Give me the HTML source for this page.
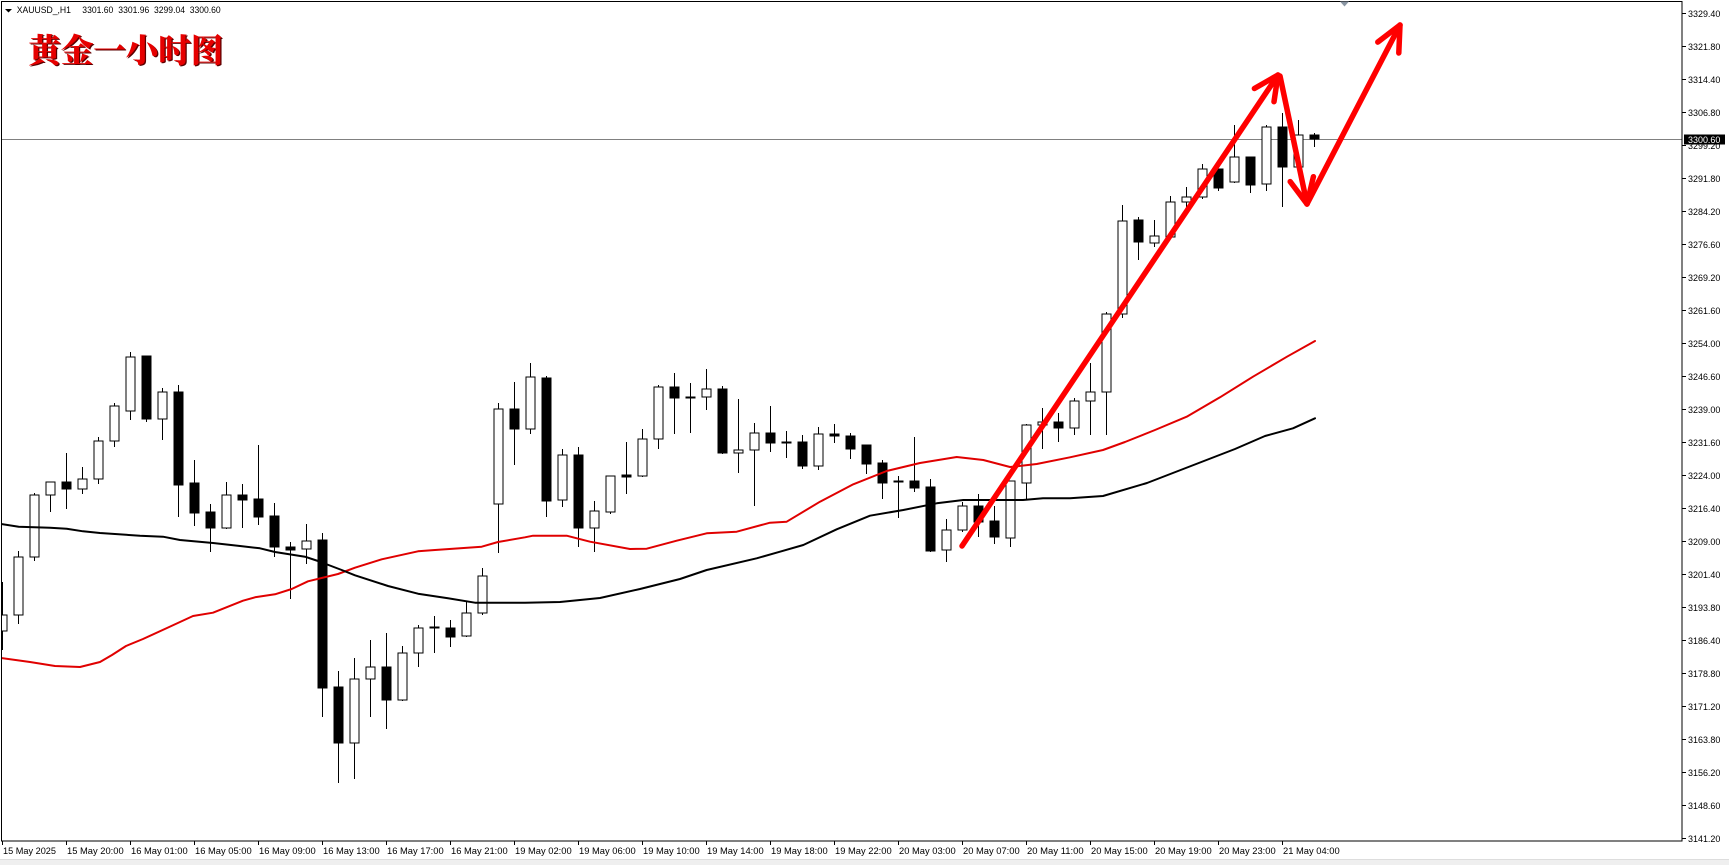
<!DOCTYPE html>
<html>
<head>
<meta charset="utf-8">
<style>
html,body{margin:0;padding:0;background:#fff;}
svg{display:block;}
</style>
</head>
<body>
<svg width="1729" height="865" viewBox="0 0 1729 865" xmlns="http://www.w3.org/2000/svg">
<rect x="0" y="0" width="1729" height="865" fill="#ffffff"/>
<!-- bottom strip -->
<rect x="0" y="860" width="1729" height="5" fill="#efefef"/>
<line x1="0" y1="859.5" x2="1729" y2="859.5" stroke="#dddddd" stroke-width="1"/>

<defs>
<clipPath id="plot"><rect x="2" y="2" width="1680" height="839"/></clipPath>
</defs>

<!-- current price line -->
<line x1="2" y1="139.5" x2="1682" y2="139.5" stroke="#808080" stroke-width="1" shape-rendering="crispEdges"/>

<g clip-path="url(#plot)" shape-rendering="crispEdges">
<!-- wicks -->
<path stroke="#000" stroke-width="1" fill="none" d="
M2.5 582V650 M18.5 551V624 M34.5 493V561 M50.5 482V512 M66.5 453V509 M82.5 467V494 M98.5 437V484 M114.5 403V447
M130.5 352V420 M146.5 356V422 M162.5 388V440 M178.5 385V517 M194.5 460V526 M210.5 504V552 M226.5 482V529 M242.5 484V528
M258.5 445V525 M274.5 503V557 M290.5 542V599 M306.5 524V564 M322.5 533V717 M338.5 671V783 M354.5 658V779 M370.5 640V717
M386.5 633V729 M402.5 646V701 M418.5 625V667 M434.5 616V653 M450.5 620V647 M466.5 602V637 M482.5 568V615 M498.5 403V553
M514.5 382V465 M530.5 363V434 M546.5 376V517 M562.5 449V507 M578.5 447V547 M594.5 501V552 M610.5 476V514 M626.5 442V494
M642.5 429V477 M658.5 385V449 M674.5 373V434 M690.5 383V433 M706.5 369V410 M722.5 386V454 M738.5 399V473 M754.5 423V506
M770.5 406V452 M786.5 431V458 M802.5 435V469 M818.5 427V470 M834.5 424V443 M850.5 433V459 M866.5 445V474 M882.5 460V499
M898.5 476V518 M914.5 437V492 M930.5 479V552 M946.5 519V562 M962.5 502V532 M978.5 494V537 M994.5 506V544 M1010.5 481V547
M1026.5 424V500 M1042.5 408V449 M1058.5 413V442 M1074.5 398V435 M1090.5 363V435 M1106.5 312V435 M1122.5 205V318 M1138.5 217V260
M1154.5 220V247 M1170.5 196V238 M1186.5 187V207 M1202.5 164V199 M1218.5 169V191 M1234.5 125V183 M1250.5 157V193 M1266.5 125V191
M1282.5 113V207 M1298.5 120V167 M1314.5 133V147"/>
<!-- bull bodies -->
<g fill="#fff" stroke="#000" stroke-width="1">
<rect x="-2" y="615" width="9" height="16"/>
<rect x="14" y="557" width="9" height="58"/>
<rect x="30" y="495" width="9" height="62"/>
<rect x="46" y="482" width="9" height="13"/>
<rect x="78" y="479" width="9" height="10"/>
<rect x="94" y="441" width="9" height="38"/>
<rect x="110" y="406" width="9" height="35"/>
<rect x="126" y="357" width="9" height="54"/>
<rect x="158" y="392" width="9" height="27"/>
<rect x="222" y="495" width="9" height="33"/>
<rect x="302" y="541" width="9" height="8"/>
<rect x="350" y="679" width="9" height="64"/>
<rect x="366" y="667" width="9" height="12"/>
<rect x="398" y="653" width="9" height="47"/>
<rect x="414" y="628" width="9" height="25"/>
<rect x="462" y="613" width="9" height="23"/>
<rect x="478" y="576" width="9" height="37"/>
<rect x="494" y="409" width="9" height="95"/>
<rect x="526" y="377" width="9" height="52"/>
<rect x="558" y="455" width="9" height="45"/>
<rect x="590" y="511" width="9" height="17"/>
<rect x="606" y="476" width="9" height="36"/>
<rect x="638" y="439" width="9" height="37"/>
<rect x="654" y="387" width="9" height="52"/>
<rect x="702" y="389" width="9" height="8"/>
<rect x="734" y="450" width="9" height="3"/>
<rect x="750" y="433" width="9" height="17"/>
<rect x="814" y="434" width="9" height="32"/>
<rect x="942" y="530" width="9" height="20"/>
<rect x="958" y="506" width="9" height="24"/>
<rect x="1006" y="481" width="9" height="57"/>
<rect x="1022" y="425" width="9" height="58"/>
<rect x="1038" y="422" width="9" height="3"/>
<rect x="1070" y="401" width="9" height="27"/>
<rect x="1086" y="392" width="9" height="9"/>
<rect x="1102" y="314" width="9" height="78"/>
<rect x="1118" y="221" width="9" height="93"/>
<rect x="1150" y="236" width="9" height="7"/>
<rect x="1166" y="202" width="9" height="35"/>
<rect x="1182" y="197" width="9" height="5"/>
<rect x="1198" y="169" width="9" height="28"/>
<rect x="1230" y="157" width="9" height="25"/>
<rect x="1262" y="127" width="9" height="57"/>
<rect x="1294" y="135" width="9" height="32"/>
</g>
<!-- bear bodies -->
<g fill="#000" stroke="#000" stroke-width="1">
<rect x="62" y="482" width="9" height="7"/>
<rect x="142" y="356" width="9" height="63"/>
<rect x="174" y="392" width="9" height="93"/>
<rect x="190" y="483" width="9" height="30"/>
<rect x="206" y="512" width="9" height="16"/>
<rect x="238" y="495" width="9" height="5"/>
<rect x="254" y="499" width="9" height="18"/>
<rect x="270" y="516" width="9" height="31"/>
<rect x="286" y="547" width="9" height="3"/>
<rect x="318" y="540" width="9" height="148"/>
<rect x="334" y="687" width="9" height="56"/>
<rect x="382" y="667" width="9" height="33"/>
<rect x="430" y="627" width="9" height="1"/>
<rect x="446" y="628" width="9" height="9"/>
<rect x="510" y="409" width="9" height="20"/>
<rect x="542" y="378" width="9" height="123"/>
<rect x="574" y="455" width="9" height="73"/>
<rect x="622" y="475" width="9" height="2"/>
<rect x="670" y="387" width="9" height="11"/>
<rect x="686" y="397" width="9" height="1"/>
<rect x="718" y="389" width="9" height="64"/>
<rect x="766" y="433" width="9" height="10"/>
<rect x="782" y="442" width="9" height="1"/>
<rect x="798" y="442" width="9" height="24"/>
<rect x="830" y="434" width="9" height="2"/>
<rect x="846" y="436" width="9" height="13"/>
<rect x="862" y="445" width="9" height="19"/>
<rect x="878" y="463" width="9" height="20"/>
<rect x="894" y="481" width="9" height="1"/>
<rect x="910" y="481" width="9" height="7"/>
<rect x="926" y="487" width="9" height="64"/>
<rect x="974" y="506" width="9" height="16"/>
<rect x="990" y="521" width="9" height="16"/>
<rect x="1054" y="422" width="9" height="6"/>
<rect x="1134" y="220" width="9" height="22"/>
<rect x="1214" y="169" width="9" height="19"/>
<rect x="1246" y="157" width="9" height="28"/>
<rect x="1278" y="127" width="9" height="40"/>
<rect x="1310" y="135" width="9" height="4"/>
</g>
</g>

<!-- moving averages -->
<g clip-path="url(#plot)" fill="none" stroke-linejoin="round" stroke-linecap="round">
<polyline stroke="#e00000" stroke-width="2" points="1,658 30,662 55,666 80,667 100,662 112,655 126,646 143,639 167,628 193,616 213,612.7 243,600.7 255,597.3 275,594.3 291.7,589 308,581.3 338,574 355,567.7 381.7,559.3 418,551.3 435,550 481.7,546.7 498,542 525,537.3 533,535.7 566.7,535.7 590,541.7 630,549 646.7,548.7 676.7,540.7 706.7,533.3 736.7,531.7 770,522.7 786.7,521.7 820,501.7 853.3,484.3 886.7,471 920,463 956.7,457 983.3,460 1010,467 1036.7,464 1070,457.3 1103,450 1125,442 1155,430 1186.7,416.7 1220,397.3 1253,376.7 1287,356.7 1315,341"/>
<polyline stroke="#000000" stroke-width="2" points="1,524 18.7,526.7 50,527.7 66.7,528.7 83,531.3 100,533 140,535.7 163,536.7 180,540 213,543 240,546 260,548.3 275,552 305,556.7 318,561 341.7,570 355,575.3 388,586 418,593.7 448,598.3 475,602.7 525,602.7 560,602 600,598 640,589 680,579 706.7,570 756.7,558.3 780,551.7 803.3,545 836.7,529.3 870,515.7 903.3,510 936.7,503.3 963.3,500 1023,500 1043,498.3 1070,498.3 1103,496 1147,483 1191,466 1235,449 1265,436 1293,428.3 1315,418.3"/>
</g>

<!-- red arrows -->
<g fill="none" stroke="#ff0000" stroke-width="5.5" stroke-linecap="round" stroke-linejoin="round">
<line x1="962" y1="546" x2="1278" y2="75"/>
<polyline points="1254.4,88.5 1278,75 1274,101.7"/>
<line x1="1280" y1="76" x2="1307" y2="204"/>
<polyline points="1290.2,181.6 1307,204 1313.4,176.7"/>
<line x1="1307" y1="204" x2="1400" y2="25"/>
<polyline points="1377.8,42.1 1400,25 1398.8,53"/>
</g>

<!-- plot border -->
<rect x="1.5" y="1.5" width="1680.5" height="839.5" fill="none" stroke="#000" stroke-width="1" shape-rendering="crispEdges"/>

<!-- shift marker -->
<polygon points="1340,1.5 1349,1.5 1344.5,6.5" fill="#8a96a3"/>

<!-- header -->
<polygon points="5,9 12,9 8.5,12.5" fill="#000"/>
<g font-family="Liberation Sans, sans-serif" font-size="9.5" fill="#000">
<text x="16.7" y="12.8" textLength="54.3" lengthAdjust="spacingAndGlyphs">XAUUSD_,H1</text>
<text x="82.3" y="12.8" textLength="31" lengthAdjust="spacingAndGlyphs">3301.60</text>
<text x="118.3" y="12.8" textLength="31" lengthAdjust="spacingAndGlyphs">3301.96</text>
<text x="154" y="12.8" textLength="31" lengthAdjust="spacingAndGlyphs">3299.04</text>
<text x="189.7" y="12.8" textLength="31" lengthAdjust="spacingAndGlyphs">3300.60</text>
</g>

<!-- title -->
<g font-family="Liberation Serif, Noto Serif CJK SC, serif" font-weight="900" font-size="33">
<text x="29.5" y="63" fill="#5a0000" textLength="195" lengthAdjust="spacingAndGlyphs">黄金一小时图</text>
<text x="28.3" y="62" fill="#e60000" textLength="195" lengthAdjust="spacingAndGlyphs">黄金一小时图</text>
</g>

<!-- price axis ticks -->
<path stroke="#000" stroke-width="1" shape-rendering="crispEdges" d="
M1682 13.5H1686 M1682 46.5H1686 M1682 79.5H1686 M1682 112.5H1686 M1682 145.5H1686 M1682 178.5H1686 M1682 211.5H1686
M1682 244.5H1686 M1682 277.5H1686 M1682 310.5H1686 M1682 343.5H1686 M1682 376.5H1686 M1682 409.5H1686 M1682 442.5H1686
M1682 475.5H1686 M1682 508.5H1686 M1682 541.5H1686 M1682 574.5H1686 M1682 607.5H1686 M1682 640.5H1686 M1682 673.5H1686
M1682 706.5H1686 M1682 739.5H1686 M1682 772.5H1686 M1682 805.5H1686 M1682 838.5H1686"/>
<g font-family="Liberation Sans, sans-serif" font-size="9" fill="#000">
<text x="1688" y="16.8" textLength="32.4" lengthAdjust="spacingAndGlyphs">3329.40</text>
<text x="1688" y="49.8" textLength="32.4" lengthAdjust="spacingAndGlyphs">3321.80</text>
<text x="1688" y="82.8" textLength="32.4" lengthAdjust="spacingAndGlyphs">3314.40</text>
<text x="1688" y="115.8" textLength="32.4" lengthAdjust="spacingAndGlyphs">3306.80</text>
<text x="1688" y="148.8" textLength="32.4" lengthAdjust="spacingAndGlyphs">3299.20</text>
<text x="1688" y="181.8" textLength="32.4" lengthAdjust="spacingAndGlyphs">3291.80</text>
<text x="1688" y="214.8" textLength="32.4" lengthAdjust="spacingAndGlyphs">3284.20</text>
<text x="1688" y="247.8" textLength="32.4" lengthAdjust="spacingAndGlyphs">3276.60</text>
<text x="1688" y="280.8" textLength="32.4" lengthAdjust="spacingAndGlyphs">3269.20</text>
<text x="1688" y="313.8" textLength="32.4" lengthAdjust="spacingAndGlyphs">3261.60</text>
<text x="1688" y="346.8" textLength="32.4" lengthAdjust="spacingAndGlyphs">3254.00</text>
<text x="1688" y="379.8" textLength="32.4" lengthAdjust="spacingAndGlyphs">3246.60</text>
<text x="1688" y="412.8" textLength="32.4" lengthAdjust="spacingAndGlyphs">3239.00</text>
<text x="1688" y="445.8" textLength="32.4" lengthAdjust="spacingAndGlyphs">3231.60</text>
<text x="1688" y="478.8" textLength="32.4" lengthAdjust="spacingAndGlyphs">3224.00</text>
<text x="1688" y="511.8" textLength="32.4" lengthAdjust="spacingAndGlyphs">3216.40</text>
<text x="1688" y="544.8" textLength="32.4" lengthAdjust="spacingAndGlyphs">3209.00</text>
<text x="1688" y="577.8" textLength="32.4" lengthAdjust="spacingAndGlyphs">3201.40</text>
<text x="1688" y="610.8" textLength="32.4" lengthAdjust="spacingAndGlyphs">3193.80</text>
<text x="1688" y="643.8" textLength="32.4" lengthAdjust="spacingAndGlyphs">3186.40</text>
<text x="1688" y="676.8" textLength="32.4" lengthAdjust="spacingAndGlyphs">3178.80</text>
<text x="1688" y="709.8" textLength="32.4" lengthAdjust="spacingAndGlyphs">3171.20</text>
<text x="1688" y="742.8" textLength="32.4" lengthAdjust="spacingAndGlyphs">3163.80</text>
<text x="1688" y="775.8" textLength="32.4" lengthAdjust="spacingAndGlyphs">3156.20</text>
<text x="1688" y="808.8" textLength="32.4" lengthAdjust="spacingAndGlyphs">3148.60</text>
<text x="1688" y="841.8" textLength="32.4" lengthAdjust="spacingAndGlyphs">3141.20</text>
</g>
<!-- current price box -->
<rect x="1684" y="134.5" width="41" height="10" fill="#000"/>
<text x="1688" y="142.9" font-family="Liberation Sans, sans-serif" font-size="9" fill="#fff" textLength="32.4" lengthAdjust="spacingAndGlyphs">3300.60</text>

<!-- time axis ticks -->
<path stroke="#000" stroke-width="1" shape-rendering="crispEdges" d="
M2.5 841V845 M66.5 841V845 M130.5 841V845 M194.5 841V845 M258.5 841V845 M322.5 841V845 M386.5 841V845 M450.5 841V845
M514.5 841V845 M578.5 841V845 M642.5 841V845 M706.5 841V845 M770.5 841V845 M834.5 841V845 M898.5 841V845 M962.5 841V845
M1026.5 841V845 M1090.5 841V845 M1154.5 841V845 M1218.5 841V845 M1282.5 841V845"/>
<g font-family="Liberation Sans, sans-serif" font-size="9" fill="#000">
<text x="3" y="854" textLength="53" lengthAdjust="spacingAndGlyphs">15 May 2025</text>
<text x="67" y="854" textLength="56.7" lengthAdjust="spacingAndGlyphs">15 May 20:00</text>
<text x="131" y="854" textLength="56.7" lengthAdjust="spacingAndGlyphs">16 May 01:00</text>
<text x="195" y="854" textLength="56.7" lengthAdjust="spacingAndGlyphs">16 May 05:00</text>
<text x="259" y="854" textLength="56.7" lengthAdjust="spacingAndGlyphs">16 May 09:00</text>
<text x="323" y="854" textLength="56.7" lengthAdjust="spacingAndGlyphs">16 May 13:00</text>
<text x="387" y="854" textLength="56.7" lengthAdjust="spacingAndGlyphs">16 May 17:00</text>
<text x="451" y="854" textLength="56.7" lengthAdjust="spacingAndGlyphs">16 May 21:00</text>
<text x="515" y="854" textLength="56.7" lengthAdjust="spacingAndGlyphs">19 May 02:00</text>
<text x="579" y="854" textLength="56.7" lengthAdjust="spacingAndGlyphs">19 May 06:00</text>
<text x="643" y="854" textLength="56.7" lengthAdjust="spacingAndGlyphs">19 May 10:00</text>
<text x="707" y="854" textLength="56.7" lengthAdjust="spacingAndGlyphs">19 May 14:00</text>
<text x="771" y="854" textLength="56.7" lengthAdjust="spacingAndGlyphs">19 May 18:00</text>
<text x="835" y="854" textLength="56.7" lengthAdjust="spacingAndGlyphs">19 May 22:00</text>
<text x="899" y="854" textLength="56.7" lengthAdjust="spacingAndGlyphs">20 May 03:00</text>
<text x="963" y="854" textLength="56.7" lengthAdjust="spacingAndGlyphs">20 May 07:00</text>
<text x="1027" y="854" textLength="56.7" lengthAdjust="spacingAndGlyphs">20 May 11:00</text>
<text x="1091" y="854" textLength="56.7" lengthAdjust="spacingAndGlyphs">20 May 15:00</text>
<text x="1155" y="854" textLength="56.7" lengthAdjust="spacingAndGlyphs">20 May 19:00</text>
<text x="1219" y="854" textLength="56.7" lengthAdjust="spacingAndGlyphs">20 May 23:00</text>
<text x="1283" y="854" textLength="56.7" lengthAdjust="spacingAndGlyphs">21 May 04:00</text>
</g>
</svg>
</body>
</html>
